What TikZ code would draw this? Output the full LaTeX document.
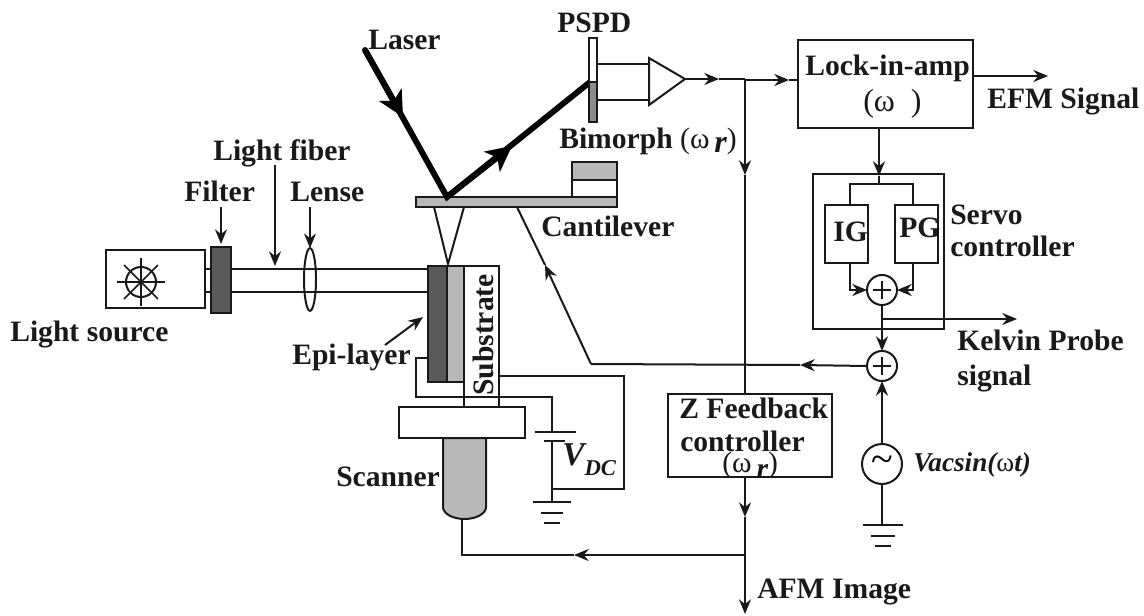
\documentclass[tikz,border=0pt]{standalone}
\usepackage{fontspec}
\setmainfont{Liberation Serif}
\usetikzlibrary{arrows.meta,calc,shapes.geometric}
\tikzset{
  wire/.style={line width=1.5pt,black!90},
  tip/.style={wire,-{Stealth[length=11pt,width=9pt]}},
  beam/.style={line width=4.4pt,black},
  beamtip/.style={beam,-{Stealth[length=19pt,width=19pt,inset=5pt]}},
  box/.style={draw=black!90,line width=1.5pt,inner sep=0pt,outer sep=0pt,anchor=north west},
  lab/.style={inner sep=0pt,anchor=base west,font=\fontsize{22.2}{22}\selectfont\bfseries,text=black!90},
  sum/.style={draw=black!90,line width=1.5pt,circle,minimum size=22.5pt,inner sep=0pt,outer sep=0pt,fill=white},
}
\newcommand{\pxbox}[6][]{\node[box,#1,minimum width={(#4-#2)*0.75pt},minimum height={(#5-#3)*0.75pt}] (#6) at (#2,#3) {};}
\newcommand{\grounded}[3]{% x, y, half width
  \draw[wire] (#1-#3,#2) -- (#1+#3,#2);
  \draw[wire] (#1-#3*0.6,#2+10.5) -- (#1+#3*0.6,#2+10.5);
  \draw[wire] (#1-#3*0.4,#2+20.5) -- (#1+#3*0.4,#2+20.5);}
\begin{document}
\begin{tikzpicture}[x=0.75pt,y=-0.75pt]
\useasboundingbox (0,0) rectangle (1144,616);
% light source
\pxbox{106}{250}{205}{308}{source}
\draw[wire] (141,282) circle[radius=15];
\foreach \a in {0,45,...,315} \draw[wire,line width=1.2pt] (141,282) -- ++(\a:24);
\draw[wire] (205,269) -- (211,269) (205,292) -- (211,292);
\pxbox[fill=black!65]{211}{247}{231}{313}{filter}
\coordinate (lt) at (427,269); \coordinate (lb) at (427,292);
\draw[wire] (231,269) -- (lt) (231,292) -- (lb);
\node[draw=black!90,line width=1.5pt,ellipse,minimum width=9pt,minimum height=47pt,inner sep=0pt,outer sep=0pt] (lens) at (310,279.5) {};
% sample
\pxbox[fill=white]{464}{266}{499}{407}{subs}
\pxbox[fill=black!65]{428}{266}{447}{382}{epi}
\pxbox[fill=black!28]{447}{266}{464}{382}{buffer}
\pxbox[fill=white]{399}{407}{525}{438}{base}
% scanner
\draw[wire,fill=black!28] (443,438) -- (443,507) arc[start angle=180,end angle=360,x radius=21.5,y radius=-12] -- (486,438) -- cycle;
\coordinate (scanbot) at (462,519);
% cantilever
\pxbox[fill=black!28]{416}{197}{617}{207}{canti}
\pxbox[fill=white]{572}{180}{617}{197}{bimb}
\pxbox[fill=black!28]{572}{162}{617}{180}{bimt}
\draw[wire] (434,207) -- (448,264) -- (464,207);
% laser
\coordinate (l0) at (365,50); \coordinate (lm1) at (403,117); \coordinate (hit) at (447,197);
\coordinate (lm2) at (512,146); \coordinate (l1) at (590,82);
\draw[beam,line cap=round] (l0) -- (hit) -- (l1);
\draw[beamtip] (l0) -- (lm1);
\draw[beamtip] (hit) -- (lm2);
% PSPD
\pxbox[fill=white]{589}{38}{597}{82}{pspdt}
\pxbox[fill=black!45]{589}{82}{597}{122}{pspdb}
\draw[wire] (597,64) -- (649,64) (597,100) -- (649,100);
\draw[wire,fill=white] (649,58) -- (649,105) -- (685,79) -- cycle;
\coordinate (amp) at (685,79); \coordinate (m1) at (719,79); \coordinate (j1) at (745,79);
\draw[tip] (amp) -- (m1); \draw[wire] (m1) -- (j1);
% lock-in
\pxbox[fill=white]{798}{40}{973}{128}{lock}
\coordinate (lin) at (798,80); \coordinate (m2) at (789,80);
\draw[tip] (j1) -- (745,80) -- (m2); \draw[wire] (m2) -- (lin);
\coordinate (efm0) at (973,76); \coordinate (efm1) at (1048,76);
\draw[tip] (efm0) -- (efm1);
% z feedback
\pxbox[fill=white]{668}{394}{832}{477}{zfb}
\coordinate (m3) at (745,175); \coordinate (ztop) at (745,394); \coordinate (zbot) at (745,477);
\coordinate (m4) at (745,517); \coordinate (j2) at (745,555); \coordinate (afm) at (745,614);
\draw[tip] (j1) -- (m3); \draw[wire] (m3) -- (ztop);
\draw[tip] (zbot) -- (m4); \draw[wire] (m4) -- (j2);
\draw[tip] (j2) -- (afm);
\coordinate (m7) at (574,555); \coordinate (cb) at (462,555);
\draw[tip] (j2) -- (m7);
\draw[wire] (m7) -- (cb) -- (scanbot);
% servo
\pxbox{813}{174}{944}{329}{servo}
\pxbox{825}{205}{868}{263}{ig}
\pxbox{895}{205}{938}{263}{pg}
\node[sum] (s1) at (882,290) {}; \node[sum] (s2) at (882,366) {};
\draw[wire] (s1.center) ++(-9,0) -- ++(18,0) (s1.center) ++(0,-9) -- ++(0,18);
\draw[wire] (s2.center) ++(-9,0) -- ++(18,0) (s2.center) ++(0,-9) -- ++(0,18);
\coordinate (lockb) at (879,128); \coordinate (branch) at (879,184);
\draw[tip] (lockb) -- (879,176); \draw[wire] (879,176) -- (branch);
\draw[wire] (850,205) -- (850,184) -- (913,184) -- (913,205);
\draw[tip] (850,263) -- (850,290) -- (s1.west);
\draw[tip] (913,263) -- (913,290) -- (s1.east);
\coordinate (j3) at (882,319); \coordinate (kelvin) at (1017,319);
\draw[wire] (s1.south) -- (j3);
\draw[tip] (j3) -- (kelvin);
\draw[tip] (j3) -- (s2.north);
% feedback to cantilever
\coordinate (m5) at (800,365); \coordinate (bend) at (591,364); \coordinate (m6) at (545,265); \coordinate (cant) at (517,207);
\draw[tip] (s2.west) -- (m5); \draw[wire] (m5) -- (bend);
\draw[tip] (bend) -- (m6); \draw[wire] (m6) -- (cant);
% ac source
\node[sum,minimum size=30pt] (ac) at (882,464) {};
\node[font=\fontsize{30}{30}\selectfont,inner sep=0pt] (tilde) at (ac.center) {\char"007E};
\draw[tip] (ac.north) -- (s2.south);
\coordinate (g2) at (882,525);
\draw[wire] (ac.south) -- (g2);
\grounded{883}{525}{20}
% dc wiring
\coordinate (w1) at (416,358); \coordinate (w2) at (416,397); \coordinate (w3) at (552,397);
\coordinate (b1) at (552,432); \coordinate (b2) at (552,441); \coordinate (g1) at (552,502);
\coordinate (w4) at (624,376); \coordinate (w5) at (624,489); \coordinate (w6) at (552,489);
\draw[wire] (428,358) -- (w1) -- (w2) -- (w3) -- (b1);
\draw[wire] (535,432) -- (576,432) (544,441) -- (565,441);
\draw[wire] (b2) -- (g1);
\draw[wire] (499,376) -- (w4) -- (w5) -- (w6);
\grounded{552}{502}{19}
% pointer arrows
\draw[tip] (221,207) -- (221,244);
\draw[tip] (275,165) -- (275,266);
\draw[tip] (310,207) -- (lens.north);
\draw[tip] (385,345) -- (423,317);
% labels
\node[lab] (tlaser) at (368,50) {Laser};
\node[lab] (tpspd) at (557,33) {PSPD};
\node[lab] (tlock) at (805,76) {Lock-in-amp};
\node[lab,font=\fontsize{24}{24}\selectfont] (tw) at (863,112) {(ω\,\,\,)};
\node[lab] (tefm) at (987,109) {EFM Signal};
\node[lab] (tbim) at (559,149) {Bimorph \mdseries(ω\,\textbf{\textit{\raisebox{-3pt}{\fontsize{24}{24}\selectfont r}}}\mdseries)};
\node[lab] (tfib) at (213,161) {Light fiber};
\node[lab] (tfil) at (184,202) {Filter};
\node[lab] (tlen) at (290,202) {Lense};
\node[lab] (tcan) at (541,237) {Cantilever};
\node[lab] (tser) at (950,225) {Servo};
\node[lab] (tcon) at (950,257) {controller};
\node[lab] (tig) at (833,242) {IG};
\node[lab] (tpg) at (899,238) {PG};
\node[lab] (tsrc) at (10,341) {Light source};
\node[lab] (tepi) at (292,364) {Epi-layer};
\node[lab] (tkel) at (957,350) {Kelvin Probe};
\node[lab] (tsig) at (957,385) {signal};
\node[lab,rotate=90,anchor=center] (tsub) at (483,335) {Substrate};
\node[lab] (tsca) at (336,486) {Scanner};
\node[lab,font=\fontsize{25}{25}\selectfont\bfseries\itshape] (tvdc) at (562,465) {V\raisebox{-8pt}{\fontsize{17}{17}\selectfont DC}};
\node[lab] (tzf) at (679,418) {Z Feedback};
\node[lab] (tzc) at (680,451) {controller};
\node[lab] (tzw) at (722,472) {\mdseries(ω\,\textbf{\textit{\raisebox{-5pt}{r}}}\mdseries)};
\node[lab,font=\fontsize{20.4}{20}\selectfont\bfseries\itshape] (tvac) at (913,471) {Vacsin({\mdseries\upshape ω}t)};
\node[lab] (tafm) at (757,598) {AFM Image};
\end{tikzpicture}
\end{document}
